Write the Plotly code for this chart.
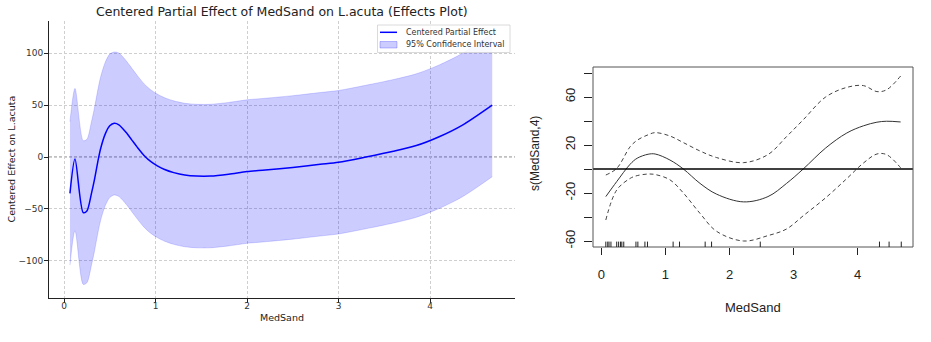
import plotly.graph_objects as go

W, H = 931, 342

# ---------------- Left panel data (Effects plot) ----------------
left_x = [0.065, 0.12, 0.21, 0.25, 0.30, 0.33, 0.375, 0.40, 0.45, 0.50, 0.55, 0.60, 0.68, 0.74, 0.80,
          0.88, 0.95, 1.02, 1.10, 1.20, 1.32, 1.45, 1.60, 1.80, 2.00, 2.20, 2.50, 2.80, 3.00, 3.30,
          3.60, 3.85, 4.10, 4.35, 4.68]
left_effect = [-35, -2, -53.5, -52, -35, -23, -2, 8, 22, 30, 32.5, 31, 23.5, 16.5, 9.5,
               1, -4.5, -8.5, -12, -15, -17.3, -18.3, -18.3, -16.5, -14, -12.5, -10, -7, -5, 0,
               5.5, 11, 19.5, 30.5, 50]
left_upper = [34, 66, 15.7, 17, 34, 46, 67, 77, 91, 99, 101, 100, 92.5, 85.5, 78.5,
              70, 64.5, 60.5, 57, 54, 51.7, 50.7, 50.7, 52.5, 55, 56.5, 59, 62, 64, 69,
              74.5, 80, 88.5, 99.5, 119]
left_lower = [-104, -71, -122.5, -121, -104, -92, -71, -61, -47, -39, -36.5, -38, -45.5, -52.5, -59.5,
              -68, -73.5, -77.5, -81, -84, -86.3, -87.3, -87.3, -85.5, -83, -81.5, -79, -76, -74, -69,
              -63.5, -58, -49.5, -38.5, -19]
left_xticks = [0, 1, 2, 3, 4]
left_yticks = [-100, -50, 0, 50, 100]
left_yticklabels = ["\u2212100", "\u221250", "0", "50", "100"]

# ---------------- Right panel data (mgcv plot) ----------------
right_x = [0.07, 0.24, 0.45, 0.56, 0.73, 0.84, 1.07, 1.28, 1.54, 1.80, 2.22, 2.60, 2.89,
           3.15, 3.50, 3.83, 4.09, 4.30, 4.45, 4.67]
right_fit = [-23, -10.5, 4, 9, 12.3, 12.5, 7.5, 0, -12, -21, -27.4, -23, -12,
             0, 17.5, 30, 36, 39, 39.8, 39.2]
right_upper = [-5, 0.5, 18.6, 24, 28.5, 30.3, 27.5, 22, 15, 9.5, 5.3, 12, 27,
               41, 60, 68, 69.5, 64.5, 66, 77.5]
right_lower = [-42.5, -17.5, -7.8, -5.5, -4.2, -4.6, -9, -20, -37, -52, -60, -55.5, -50,
               -39, -24, -8, 5, 12.5, 12, 1]
rug_x = [0.07, 0.10, 0.12, 0.15, 0.24, 0.27, 0.30, 0.32, 0.35, 0.54, 0.57, 0.68, 0.72,
         1.12, 1.22, 1.62, 1.72, 2.48, 4.34, 4.49, 4.68]
right_xticks = [0, 1, 2, 3, 4]
right_yticks = [-60, -40, -20, 0, 20, 40, 60, 80]
right_yticklabels = ["-60", "", "-20", "", "20", "", "60", ""]

BLUE = "#0000ff"
FILL = "rgba(0,0,255,0.2)"
MPL_FONT = "DejaVu Sans"
R_FONT = "Liberation Sans, Arial, sans-serif"


def px_x(p):
    return p / W


def px_y(p):
    return 1 - p / H


fig = go.Figure()

# Left: CI band
fig.add_trace(go.Scatter(x=left_x, y=left_lower, mode="lines",
                         line=dict(width=0.6, color="rgba(0,0,255,0.25)", shape="spline", smoothing=0.8),
                         showlegend=False, hoverinfo="skip", xaxis="x", yaxis="y"))
fig.add_trace(go.Scatter(x=left_x, y=left_upper, mode="lines", fill="tonexty", fillcolor=FILL,
                         line=dict(width=0.6, color="rgba(0,0,255,0.25)", shape="spline", smoothing=0.8),
                         name="95% Confidence Interval", showlegend=False, xaxis="x", yaxis="y"))
fig.add_trace(go.Scatter(x=left_x, y=left_effect, mode="lines",
                         line=dict(width=1.5, color=BLUE, shape="spline", smoothing=0.8),
                         name="Centered Partial Effect", showlegend=False, xaxis="x", yaxis="y"))

# Right: fit + dashed bands
fig.add_trace(go.Scatter(x=right_x, y=right_fit, mode="lines", line=dict(width=1, color="#333333", shape="spline"),
                         showlegend=False, xaxis="x2", yaxis="y2"))
for band in (right_upper, right_lower):
    fig.add_trace(go.Scatter(x=right_x, y=band, mode="lines",
                             line=dict(width=1, color="#444444", dash="4px,3px", shape="spline"),
                             showlegend=False, xaxis="x2", yaxis="y2"))

shapes = []
# left zero line
shapes.append(dict(type="line", xref="x domain", yref="y", x0=0, x1=1, y0=0, y1=0,
                   line=dict(color="#808080", width=1, dash="3px,2px"), layer="below"))
# right zero line
shapes.append(dict(type="line", xref="x2 domain", yref="y2", x0=0, x1=1, y0=0, y1=0,
                   line=dict(color="#000000", width=1.3), layer="above"))
# right box
shapes.append(dict(type="rect", xref="x2 domain", yref="y2 domain", x0=0, x1=1, y0=0, y1=1,
                   line=dict(color="#555555", width=1), layer="above"))
# rug
for v in rug_x:
    shapes.append(dict(type="line", xref="x2", yref="y2 domain", x0=v, x1=v, y0=0, y1=0.03,
                       line=dict(color="#222222", width=1), layer="above"))
# manual legend
shapes.append(dict(type="rect", xref="paper", yref="paper", x0=px_x(377.5), x1=px_x(510), y0=px_y(52.5), y1=px_y(25),
                   line=dict(color="#d0d0d0", width=0.8), fillcolor="rgba(255,255,255,0.85)", layer="above"))
shapes.append(dict(type="line", xref="paper", yref="paper", x0=px_x(380), x1=px_x(397), y0=px_y(32.3), y1=px_y(32.3),
                   line=dict(color=BLUE, width=1.5), layer="above"))
shapes.append(dict(type="rect", xref="paper", yref="paper", x0=px_x(380), x1=px_x(397), y0=px_y(48), y1=px_y(41.5),
                   line=dict(color="rgba(0,0,255,0.3)", width=0.8), fillcolor=FILL, layer="above"))

annotations = [
    dict(text="Centered Partial Effect of MedSand on L.acuta (Effects Plot)", xref="paper", yref="paper",
         x=px_x(282), y=px_y(11.5), xanchor="center", yanchor="middle", showarrow=False,
         font=dict(family=MPL_FONT, size=12.5, color="#222222")),
    dict(text="MedSand", xref="paper", yref="paper", x=px_x(282), y=px_y(317.5), xanchor="center", yanchor="middle",
         showarrow=False, font=dict(family=MPL_FONT, size=9.5, color="#222222")),
    dict(text="Centered Effect on L.acuta", xref="paper", yref="paper", x=px_x(11), y=px_y(159.5), textangle=-90,
         xanchor="center", yanchor="middle", showarrow=False, font=dict(family=MPL_FONT, size=9.5, color="#222222")),
    dict(text="Centered Partial Effect", xref="paper", yref="paper", x=px_x(404), y=px_y(32.3), xanchor="left",
         yanchor="middle", showarrow=False, font=dict(family=MPL_FONT, size=8, color="#333333")),
    dict(text="95% Confidence Interval", xref="paper", yref="paper", x=px_x(404), y=px_y(45), xanchor="left",
         yanchor="middle", showarrow=False, font=dict(family=MPL_FONT, size=8, color="#333333")),
    dict(text="MedSand", xref="paper", yref="paper", x=px_x(753), y=px_y(307), xanchor="center", yanchor="middle",
         showarrow=False, font=dict(family=R_FONT, size=13, color="#222222")),
    dict(text="s(MedSand,4)", xref="paper", yref="paper", x=px_x(535), y=px_y(154), textangle=-90,
         xanchor="center", yanchor="middle", showarrow=False, font=dict(family=R_FONT, size=12, color="#222222")),
]

fig.update_layout(
    width=W, height=H, margin=dict(l=0, r=0, t=0, b=0),
    paper_bgcolor="white", plot_bgcolor="white", showlegend=False,
    xaxis=dict(domain=[px_x(49), px_x(515)], range=[-0.164, 4.929], anchor="y",
               tickvals=left_xticks, ticktext=[str(t) for t in left_xticks],
               ticks="outside", ticklen=4, tickwidth=1, tickcolor="#222222",
               showline=True, linecolor="#222222", linewidth=1,
               showgrid=True, gridcolor="#cfcfcf", gridwidth=0.8, griddash="3px,2px", zeroline=False,
               ticklabelstandoff=-5,
               tickfont=dict(family=MPL_FONT, size=9, color="#333333")),
    yaxis=dict(domain=[px_y(298), px_y(21)], range=[-135.6, 130.8], anchor="x",
               tickvals=left_yticks, ticktext=left_yticklabels,
               ticks="outside", ticklen=4, tickwidth=1, tickcolor="#222222",
               showline=True, linecolor="#222222", linewidth=1,
               showgrid=True, gridcolor="#cfcfcf", gridwidth=0.8, griddash="3px,2px", zeroline=False,
               ticklabelstandoff=-1,
               tickfont=dict(family=MPL_FONT, size=9, color="#333333")),
    xaxis2=dict(domain=[px_x(593), px_x(913)], range=[-0.13, 4.863], anchor="y2",
                tickvals=right_xticks, ticktext=[str(t) for t in right_xticks],
                ticks="outside", ticklen=7, tickwidth=1, tickcolor="#222222",
                showline=False, showgrid=False, zeroline=False, ticklabelstandoff=8,
                tickfont=dict(family=R_FONT, size=13, color="#222222")),
    yaxis2=dict(domain=[px_y(247), px_y(67)], range=[-65, 85], anchor="x2",
                tickvals=right_yticks, ticktext=right_yticklabels, tickangle=-90,
                ticks="outside", ticklen=8, tickwidth=1, tickcolor="#222222",
                showline=False, showgrid=False, zeroline=False, ticklabelstandoff=4,
                tickfont=dict(family=R_FONT, size=13, color="#222222")),
    shapes=shapes, annotations=annotations,
)

fig.write_html("out.html")
